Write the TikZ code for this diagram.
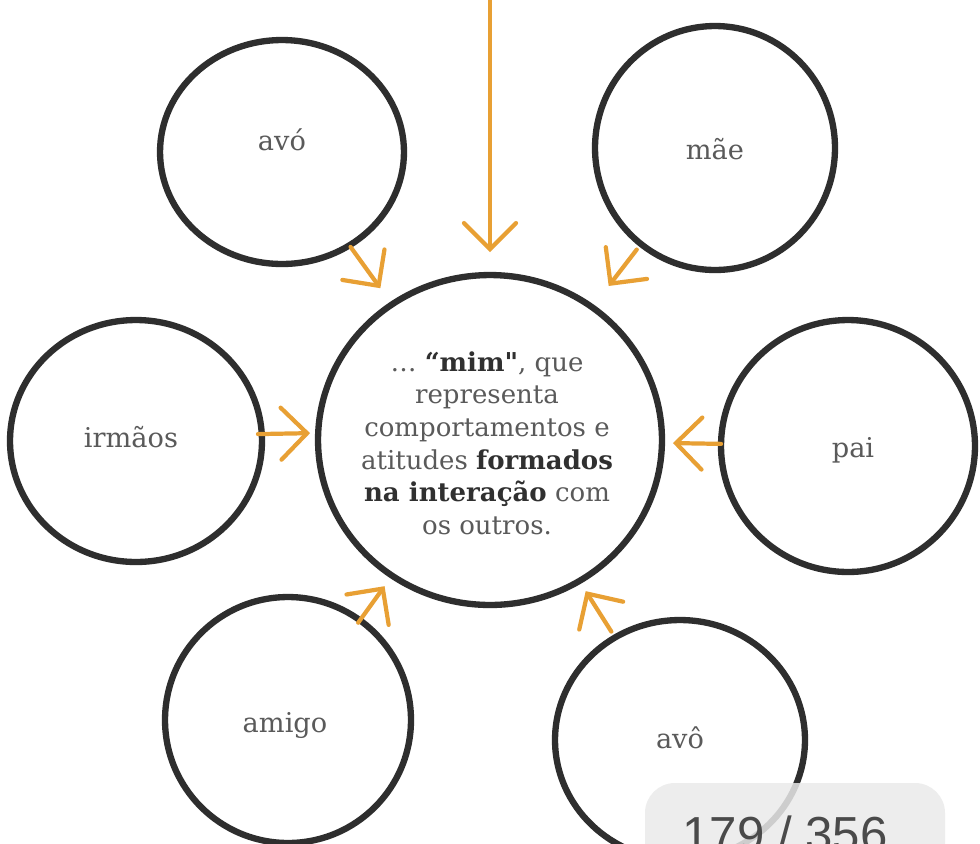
\documentclass[tikz,border=0pt]{standalone}
\usepackage{fontspec}
\setmainfont{DejaVu Serif}
\newfontfamily\pagefont{Liberation Sans}
\usetikzlibrary{shapes.geometric,arrows.meta}
\definecolor{inkc}{HTML}{2E2E2E}
\definecolor{orangec}{HTML}{E8A034}
\definecolor{txtc}{HTML}{5A5A5A}
\definecolor{boldc}{HTML}{303030}
\definecolor{pillc}{HTML}{EAEAEA}
\definecolor{pagec}{HTML}{4A4A4A}
\newcommand\hlbold[1]{\textbf{\color{boldc}#1}}
\begin{document}
\begin{tikzpicture}[x=0.02cm,y=-0.02cm,
  bubble/.style={ellipse, draw=inkc, line width=3.6pt, inner sep=0pt, outer sep=0pt},
  lbl/.style={font=\fontsize{15.5}{18}\selectfont, text=txtc, anchor=base, inner sep=0pt},
  arr/.style={draw=orangec, line width=2.4pt, line cap=round,
    -{Straight Barb[length=5.2mm,width=10.4mm,line cap=round]}},
]
\useasboundingbox (0,0) rectangle (980,843);
\fill[white] (0,0) rectangle (980,843);

% circles
\node[bubble, minimum width=4.88cm, minimum height=4.48cm] (avo)    at (282,152) {};
\node[bubble, minimum width=4.80cm, minimum height=4.88cm] (mae)    at (715,148) {};
\node[bubble, minimum width=5.04cm, minimum height=4.84cm] (irmaos) at (136,441) {};
\node[bubble, minimum width=5.08cm, minimum height=5.04cm] (pai)    at (848,446) {};
\node[bubble, minimum width=4.92cm, minimum height=4.92cm] (amigo)  at (288,720) {};
\node[bubble, minimum width=5.00cm, minimum height=4.80cm] (avo2)   at (680,740) {};
\node[bubble, minimum width=6.88cm, minimum height=6.60cm] (mim)    at (490,440) {};

% labels
\node[lbl] (avoT)    at (282,150) {avó};
\node[lbl] (maeT)    at (715,159) {mãe};
\node[lbl] (irmaosT) at (131,447) {irmãos};
\node[lbl] (paiT)    at (853,457) {pai};
\node[lbl] (amigoT)  at (285,732) {amigo};
\node[lbl] (avo2T)   at (680,748) {avô};

\node[font=\fontsize{14.8}{18.6}\selectfont, text=txtc, align=center, inner sep=0pt] (mimT) at (487,443)
  {\ldots{} \hlbold{“mim\textquotedbl}, que\\ representa\\ comportamentos e\\ atitudes \hlbold{formados}\\ \hlbold{na interação} com\\ os outros.};

% arrows
\coordinate (topS) at (490,-10);
\draw[arr, shorten >=4.6mm] (topS) -- (mim.north);
\draw[arr, shorten <=0.4mm, shorten >=4mm] (avo) -- (mim);
\draw[arr, shorten <=1.4mm, shorten >=5.4mm] (mae) -- (mim);
\draw[arr, shorten <=-0.8mm, shorten >=1.6mm] ([yshift=0.14cm]irmaos.east) -- ([yshift=0.14cm]mim.west);
\draw[arr, shorten <=0mm, shorten >=2.2mm] (pai) -- (mim);
\draw[arr, shorten <=-0.6mm, shorten >=2.6mm] (amigo) -- (mim);
\draw[arr, shorten <=1.4mm, shorten >=2.4mm] (avo2) -- (mim);

% page indicator overlay
\fill[pillc, fill opacity=0.85, rounded corners=0.6cm] (645,783) rectangle (945,905);
\node[font=\pagefont\fontsize{28}{30}\selectfont, text=pagec, anchor=base west, inner sep=0pt] (pg) at (682,851) {179 / 356};
\end{tikzpicture}
\end{document}
